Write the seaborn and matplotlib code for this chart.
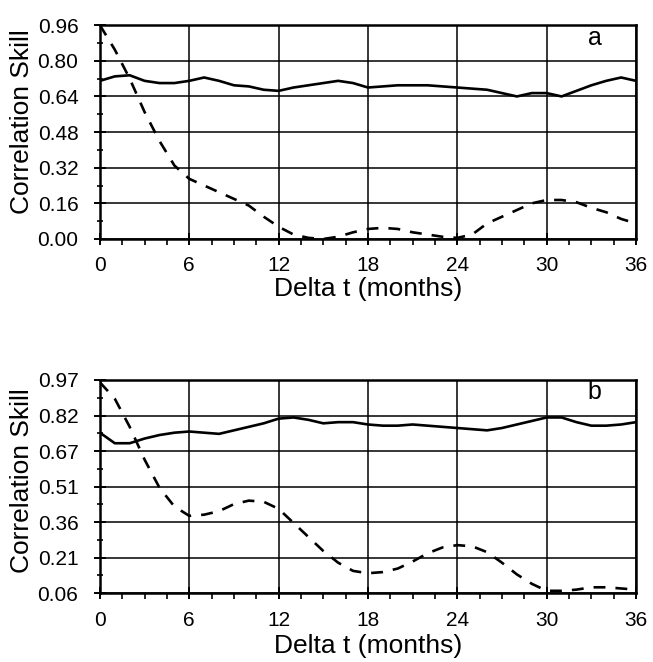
import numpy as np
import pandas as pd
import matplotlib
matplotlib.use("Agg")
import matplotlib.pyplot as plt
import seaborn as sns
from matplotlib.ticker import MultipleLocator, FixedLocator

sns.set_theme(style="white")
plt.rcParams['font.family'] = ['Liberation Sans', 'DejaVu Sans']

months = list(range(37))

solid_a = [0.71, 0.73, 0.735, 0.71, 0.70, 0.70, 0.71, 0.725, 0.71, 0.69,
           0.685, 0.67, 0.665, 0.68, 0.69, 0.70, 0.71, 0.70, 0.68, 0.685,
           0.69, 0.69, 0.69, 0.685, 0.68, 0.675, 0.67, 0.655, 0.64, 0.655,
           0.655, 0.64, 0.665, 0.69, 0.71, 0.725, 0.71]
dashed_a = [0.96, 0.85, 0.72, 0.57, 0.44, 0.33, 0.27, 0.24, 0.21, 0.18,
            0.15, 0.10, 0.055, 0.02, 0.005, 0.0, 0.01, 0.03, 0.045, 0.05,
            0.045, 0.03, 0.02, 0.01, 0.005, 0.02, 0.07, 0.10, 0.13, 0.16,
            0.175, 0.175, 0.165, 0.14, 0.12, 0.09, 0.07]

solid_b = [0.745, 0.70, 0.70, 0.72, 0.735, 0.745, 0.75, 0.745, 0.74, 0.755,
           0.77, 0.785, 0.805, 0.81, 0.80, 0.785, 0.79, 0.79, 0.78, 0.775,
           0.775, 0.78, 0.775, 0.77, 0.765, 0.76, 0.755, 0.765, 0.78, 0.795,
           0.81, 0.81, 0.79, 0.775, 0.775, 0.78, 0.79]
dashed_b = [0.96, 0.89, 0.77, 0.63, 0.51, 0.43, 0.39, 0.395, 0.41, 0.44,
            0.455, 0.45, 0.42, 0.36, 0.30, 0.24, 0.19, 0.155, 0.145, 0.15,
            0.165, 0.195, 0.23, 0.255, 0.265, 0.26, 0.235, 0.19, 0.14, 0.10,
            0.07, 0.07, 0.075, 0.085, 0.085, 0.08, 0.075]

xticks = [0, 6, 12, 18, 24, 30, 36]
yticks_a = [0.00, 0.16, 0.32, 0.48, 0.64, 0.80, 0.96]
ylabels_a = ["0.00", "0.16", "0.32", "0.48", "0.64", "0.80", "0.96"]
yticks_b = list(np.linspace(0.06, 0.97, 7))
ylabels_b = ["0.06", "0.21", "0.36", "0.51", "0.67", "0.82", "0.97"]

fig = plt.figure(figsize=(6.53, 6.62), dpi=100)
ax_a = fig.add_axes([0.153, 0.639, 0.821, 0.323])
ax_b = fig.add_axes([0.153, 0.104, 0.821, 0.322])

def draw(ax, solid, dashed, yticks, ylabels, letter, xlab_y, ylab_y, letter_y):
    df = pd.DataFrame({"month": months, "solid": solid, "dashed": dashed})
    sns.lineplot(data=df, x="month", y="solid", ax=ax, color="black", lw=1.9)
    sns.lineplot(data=df, x="month", y="dashed", ax=ax, color="black", lw=1.9)
    ax.lines[-1].set_linestyle((0, (4.5, 3.8)))
    ax.set_xlim(0, 36)
    ax.set_ylim(yticks[0], yticks[-1])
    ax.set_xticks(xticks)
    ax.set_xticklabels([str(t) for t in xticks])
    ax.yaxis.set_major_locator(FixedLocator(yticks))
    ax.set_yticklabels(ylabels)
    step = yticks[1] - yticks[0]
    ax.yaxis.set_minor_locator(FixedLocator([t + step / 2 for t in yticks[:-1]]))
    ax.xaxis.set_minor_locator(MultipleLocator(1.5))
    ax.grid(True, which="major", color="black", lw=1.1)
    ax.tick_params(which="major", direction="inout", length=9, width=1.4,
                   labelsize=15, colors="black")
    ax.tick_params(axis="y", which="major", pad=11)
    ax.tick_params(axis="x", which="major", pad=8)
    ax.tick_params(axis="x", which="minor", direction="out", length=4, width=1.4)
    ax.tick_params(axis="y", which="minor", direction="inout", length=5, width=1.4)
    ax.tick_params(bottom=True, left=True, which="both")
    for s in ax.spines.values():
        s.set_color("black")
        s.set_linewidth(1.8)
    ax.set_xlabel("Delta t (months)", fontsize=19, color="black")
    ax.set_ylabel("Correlation Skill", fontsize=19, color="black")
    ax.xaxis.set_label_coords(0.5, xlab_y)
    ax.xaxis.label.set_va("center")
    ax.yaxis.set_label_coords(-0.1455, ylab_y)
    ax.yaxis.label.set_va("center")
    ax.yaxis.label.set_ha("center")
    ax.text(0.923, letter_y, letter, transform=ax.transAxes,
            fontsize=18, color="black", va="center", ha="center")

draw(ax_a, solid_a, dashed_a, yticks_a, ylabels_a, "a", -0.232, 0.547, 0.94)
draw(ax_b, solid_b, dashed_b, yticks_b, ylabels_b, "b", -0.25, 0.53, 0.945)

fig.savefig("out.png", dpi=100)
